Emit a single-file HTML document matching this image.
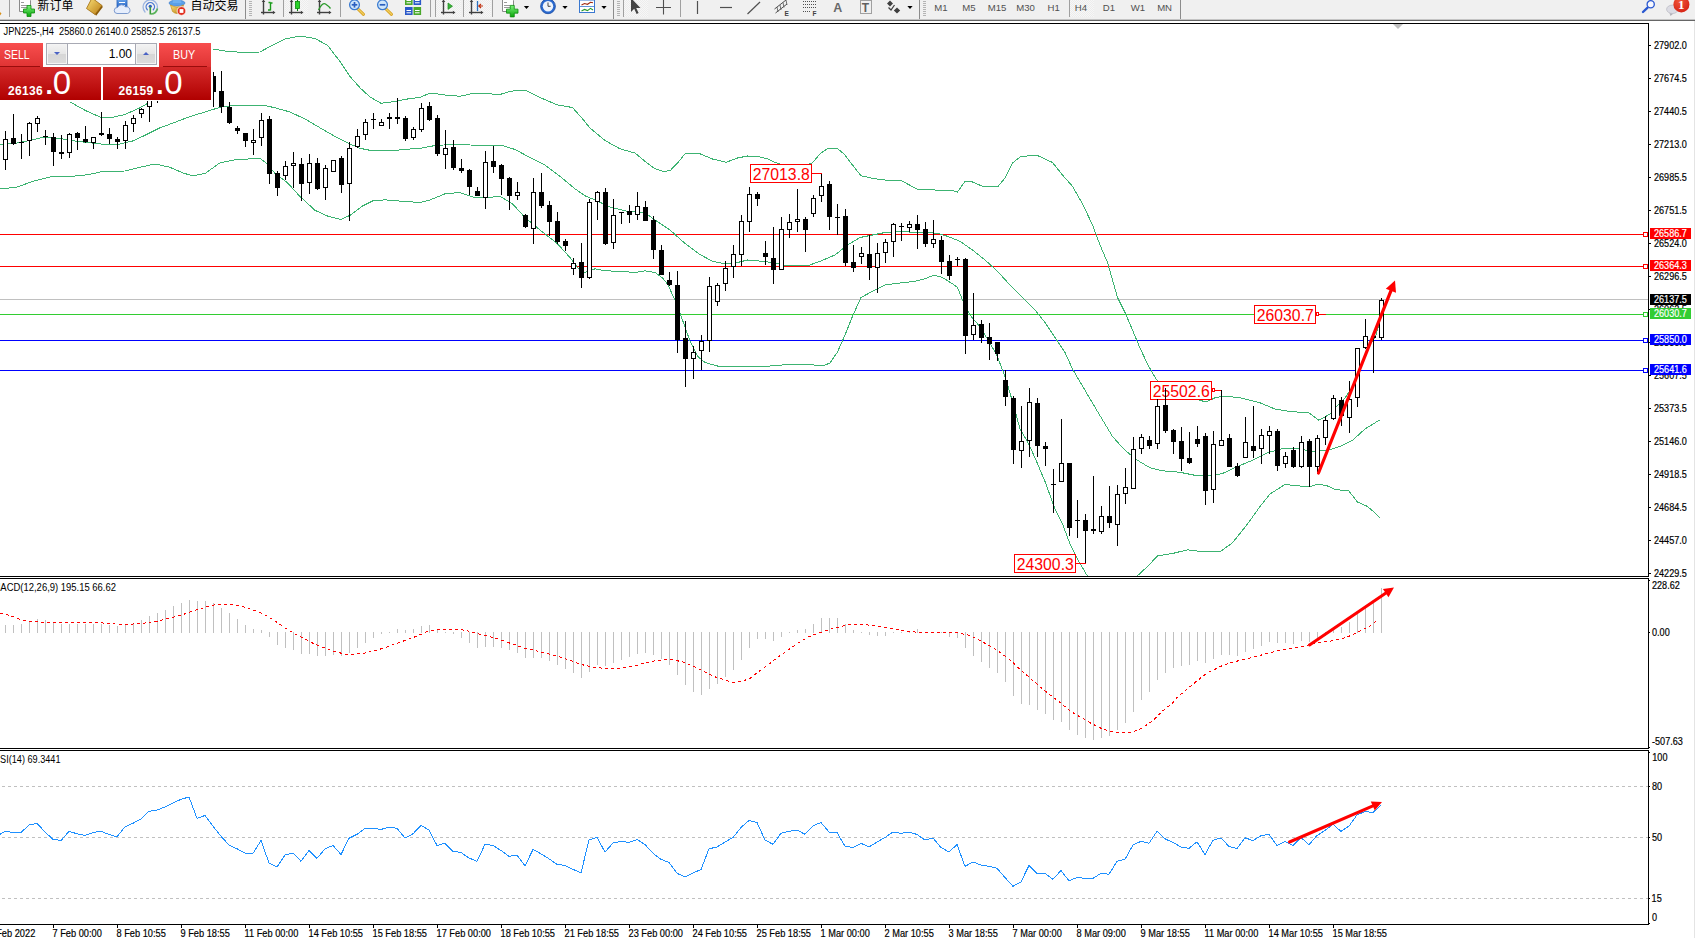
<!DOCTYPE html>
<html lang="zh"><head><meta charset="utf-8"><title>JPN225-,H4</title><style>
html,body{margin:0;padding:0;background:#fff;}
body{width:1695px;height:938px;overflow:hidden;position:relative;font-family:"Liberation Sans","Noto Sans CJK SC",sans-serif;}
#edge{position:absolute;left:1694px;top:21px;width:1px;height:917px;background:#e4e4e4;}
#oct{position:absolute;left:0;top:43px;width:211px;height:57px;}
#oct div{position:absolute;box-sizing:border-box;}
.btn{background:linear-gradient(#f84e4e,#de3232);color:#fff;font-size:12px;}
.px{background:linear-gradient(#d42a2a,#b00000);color:#fff;}
.sm{position:absolute;color:#fff;letter-spacing:0.3px;font-weight:bold;font-size:12px;line-height:12px;}
.big{position:absolute;color:#fff;font-size:33px;line-height:33px;}
.dot{position:absolute;color:#fff;font-weight:bold;font-size:26px;line-height:26px;}
.sp{background:linear-gradient(#f2f2f2 0%,#e6e6e6 48%,#d6d6d6 52%,#dcdcdc 100%);}
</style></head>
<body>
<svg id="chart" width="1695" height="938" viewBox="0 0 1695 938" style="position:absolute;left:0;top:0" font-family="Liberation Sans, sans-serif">
<defs><clipPath id="cm"><rect x="0" y="24" width="1648" height="552"/></clipPath><clipPath id="c2"><rect x="0" y="579" width="1648" height="169"/></clipPath><clipPath id="c3"><rect x="0" y="751" width="1648" height="173"/></clipPath></defs>
<g shape-rendering="crispEdges">
<rect x="0" y="299" width="1648" height="1" fill="#c0c0c0"/>
<rect x="0" y="234" width="1648" height="1" fill="#ff0000"/>
<rect x="0" y="266" width="1648" height="1" fill="#ff0000"/>
<rect x="0" y="314" width="1648" height="1" fill="#32cd32"/>
<rect x="0" y="340" width="1648" height="1" fill="#0000ff"/>
<rect x="0" y="370" width="1648" height="1" fill="#0000ff"/>
</g>
<g clip-path="url(#cm)" shape-rendering="crispEdges">
<polyline points="70.0,102.0 85.0,110.3 100.0,117.0 110.0,117.8 125.0,114.5 140.0,107.8 147.5,103.5 155.0,99.0 170.0,90.0 185.0,75.0 200.0,58.0 212.5,49.0 225.0,51.0 240.0,52.3 260.0,52.0 270.0,46.5 285.0,39.0 300.0,36.0 315.0,38.5 327.5,45.3 340.0,61.5 350.0,76.5 360.0,87.8 370.0,97.0 381.0,103.3 395.0,101.5 410.0,98.5 420.0,97.5 430.0,93.0 445.0,95.0 460.0,96.3 475.0,93.0 500.0,94.5 510.0,91.3 525.0,90.0 540.0,97.5 557.5,105.0 572.5,107.5 582.5,118.8 590.0,128.0 605.0,140.5 620.0,148.8 635.0,153.0 645.0,161.3 655.0,168.8 662.5,171.3 670.0,170.8 677.5,163.0 685.0,153.8 700.0,153.8 712.5,159.0 726.0,162.3 737.5,158.0 747.5,156.0 757.0,156.3 767.5,158.8 775.0,162.5 790.0,167.0 800.0,168.0 812.5,162.8 820.0,153.8 827.5,148.5 837.0,148.0 845.0,155.0 852.5,165.0 861.0,175.8 875.0,178.8 885.0,180.0 900.0,180.0 917.5,189.3 935.0,190.0 950.0,190.0 957.5,192.0 965.0,181.3 972.5,182.0 982.5,186.3 997.5,187.0 1005.0,178.0 1012.5,163.0 1021.0,156.3 1037.5,155.5 1052.5,162.5 1062.5,175.0 1072.5,186.3 1082.5,203.8 1092.5,225.0 1100.0,245.0 1107.5,262.5 1112.5,280.0 1117.5,297.5 1125.0,312.5 1132.5,330.0 1140.0,348.0 1147.5,364.0 1156.0,379.0 1165.0,388.0 1180.0,395.0 1190.0,398.0 1200.0,400.3 1206.0,402.0 1215.0,397.8 1225.0,396.0 1240.0,397.8 1260.0,402.8 1275.0,409.0 1290.0,411.5 1308.8,412.8 1318.8,420.3 1330.0,414.0 1337.5,405.3 1345.0,398.0 1353.0,386.0 1361.0,364.0 1369.0,346.0 1375.0,338.0 1381.0,318.0" fill="none" stroke="#3cb371" stroke-width="1" />
<polyline points="0.0,144.5 15.0,143.5 30.0,140.3 45.0,137.0 60.0,138.5 75.0,141.0 90.0,142.8 105.0,144.5 120.0,144.0 132.5,141.0 145.0,135.3 160.0,127.8 175.0,122.3 190.0,116.5 205.0,112.0 220.0,107.3 235.0,105.3 250.0,105.3 265.0,105.5 275.0,107.8 290.0,112.0 305.0,119.0 320.0,127.8 335.0,136.5 350.0,144.0 360.0,148.3 372.5,150.8 390.0,150.8 410.0,149.0 420.0,148.5 435.0,145.5 452.5,144.5 470.0,145.0 502.5,145.5 515.0,149.5 530.0,157.5 545.0,165.0 560.0,176.3 575.0,188.8 585.0,195.8 595.0,200.0 610.0,207.0 627.5,211.3 645.0,212.5 655.0,220.0 670.0,230.0 685.0,243.5 700.0,254.5 712.5,261.3 725.0,263.8 737.5,262.5 747.5,260.0 757.5,260.8 775.0,262.8 785.0,265.5 807.5,265.8 820.0,261.3 835.0,255.0 847.5,245.0 860.0,237.5 872.5,235.0 885.0,232.5 900.0,231.3 915.0,232.5 925.0,232.5 937.5,233.3 947.5,236.3 960.0,241.3 972.5,250.0 985.0,260.0 997.5,271.3 1010.0,285.0 1022.5,297.5 1035.0,310.0 1045.0,322.5 1055.0,337.5 1065.0,352.5 1072.5,369.0 1085.0,390.3 1097.5,411.5 1112.5,436.5 1125.0,450.3 1137.5,460.3 1150.0,467.8 1162.5,470.8 1180.0,472.3 1195.0,475.3 1210.0,476.0 1222.5,473.5 1237.5,466.5 1252.5,460.3 1267.5,452.8 1282.5,448.5 1297.5,448.5 1312.5,451.5 1327.5,450.3 1340.0,446.5 1352.5,440.3 1365.0,429.0 1375.0,422.8 1380.5,419.5" fill="none" stroke="#3cb371" stroke-width="1" />
<polyline points="0.0,188.3 15.0,187.8 32.5,181.5 50.0,177.0 70.0,176.5 87.5,174.8 102.5,171.5 125.0,171.0 140.0,167.3 155.0,164.0 170.0,167.3 182.5,172.8 192.5,175.8 205.0,173.5 220.0,162.8 235.0,159.8 260.0,158.3 267.5,164.0 275.0,173.5 287.5,182.8 300.0,196.5 315.0,210.3 327.5,216.0 341.0,219.5 350.0,215.3 362.5,206.0 372.5,201.0 385.0,199.8 405.0,201.5 420.0,202.5 430.0,200.0 445.0,193.8 460.0,192.5 472.5,197.0 487.5,197.5 500.0,196.3 512.5,203.8 525.0,217.5 540.0,230.0 557.5,243.8 570.0,257.5 577.5,267.5 585.0,272.5 595.0,268.8 605.0,270.8 620.0,271.3 635.0,272.5 645.0,270.8 655.0,272.5 662.5,278.0 667.5,284.0 675.0,300.0 682.5,320.0 690.0,341.0 697.5,356.3 705.0,362.5 717.5,366.0 735.0,366.0 770.0,366.0 795.0,364.0 810.0,364.5 822.5,366.0 830.0,363.0 837.5,352.0 845.0,335.0 852.5,316.3 861.0,297.5 872.5,291.3 885.0,285.0 900.0,283.0 915.0,281.3 925.0,278.8 934.0,275.0 942.5,277.5 952.5,283.8 957.5,287.5 962.5,300.0 970.0,315.0 977.5,323.8 985.0,335.0 992.5,347.5 997.5,357.0 1005.0,376.5 1012.5,401.5 1020.0,429.0 1027.5,441.5 1035.0,457.8 1045.0,481.5 1055.0,509.0 1062.5,524.0 1070.0,544.0 1077.5,559.0 1084.0,570.3 1088.0,577.0" fill="none" stroke="#3cb371" stroke-width="1" />
<polyline points="1136.0,577.0 1138.8,574.5 1147.5,566.5 1157.5,556.0 1172.5,553.5 1187.5,549.8 1205.0,552.0 1221.0,551.0 1232.5,542.8 1247.5,524.0 1260.0,506.5 1270.0,494.0 1285.0,484.5 1300.0,486.0 1308.8,487.0 1318.8,484.0 1327.5,486.0 1335.0,489.5 1348.8,491.0 1357.5,502.0 1367.5,506.5 1375.0,512.8 1380.5,518.5" fill="none" stroke="#3cb371" stroke-width="1" />
</g>
<g shape-rendering="crispEdges"><rect x="750.5" y="164.5" width="61" height="18" fill="#fff" stroke="#ff0000" stroke-width="1"/>
<rect x="812" y="173" width="10" height="1" fill="#f00"/>
</g>
<text x="781.3" y="179.6" font-size="16" fill="#ff0000" text-anchor="middle" textLength="57" lengthAdjust="spacingAndGlyphs">27013.8</text>
<g shape-rendering="crispEdges"><rect x="1014.5" y="554.5" width="61" height="18" fill="#fff" stroke="#ff0000" stroke-width="1"/>
<rect x="1076" y="563" width="10" height="1" fill="#f00"/>
</g>
<text x="1045.3" y="569.6" font-size="16" fill="#ff0000" text-anchor="middle" textLength="57" lengthAdjust="spacingAndGlyphs">24300.3</text>
<g shape-rendering="crispEdges"><rect x="1150.5" y="381.5" width="61" height="18" fill="#fff" stroke="#ff0000" stroke-width="1"/>
<rect x="1214" y="390" width="8" height="1" fill="#f00"/>
<rect x="1212.5" y="388.5" width="2" height="3" fill="#fff" stroke="#f00"/>
</g>
<text x="1181.3" y="396.6" font-size="16" fill="#ff0000" text-anchor="middle" textLength="57" lengthAdjust="spacingAndGlyphs">25502.6</text>
<g shape-rendering="crispEdges"><rect x="1254.5" y="305.5" width="61" height="18" fill="#fff" stroke="#ff0000" stroke-width="1"/>
<rect x="1319" y="314" width="7" height="1" fill="#f00"/>
<rect x="1316.5" y="312.5" width="2" height="3" fill="#fff" stroke="#f00"/>
</g>
<text x="1285.3" y="320.6" font-size="16" fill="#ff0000" text-anchor="middle" textLength="57" lengthAdjust="spacingAndGlyphs">26030.7</text>
<g clip-path="url(#cm)" shape-rendering="crispEdges">
<rect x="5" y="131" width="1" height="39" fill="#000"/>
<rect x="3" y="139" width="5" height="21" fill="#000"/>
<rect x="4" y="140" width="3" height="19" fill="#fff"/>
<rect x="13" y="114" width="1" height="31" fill="#000"/>
<rect x="11" y="138" width="5" height="6" fill="#000"/>
<rect x="21" y="134" width="1" height="25" fill="#000"/>
<rect x="19" y="142" width="5" height="1" fill="#000"/>
<rect x="29" y="122" width="1" height="34" fill="#000"/>
<rect x="27" y="123" width="5" height="18" fill="#000"/>
<rect x="28" y="124" width="3" height="16" fill="#fff"/>
<rect x="37" y="116" width="1" height="16" fill="#000"/>
<rect x="35" y="118" width="5" height="6" fill="#000"/>
<rect x="36" y="119" width="3" height="4" fill="#fff"/>
<rect x="45" y="130" width="1" height="15" fill="#000"/>
<rect x="43" y="136" width="5" height="1" fill="#000"/>
<rect x="53" y="133" width="1" height="33" fill="#000"/>
<rect x="51" y="137" width="5" height="15" fill="#000"/>
<rect x="61" y="135" width="1" height="24" fill="#000"/>
<rect x="59" y="152" width="5" height="2" fill="#000"/>
<rect x="69" y="133" width="1" height="25" fill="#000"/>
<rect x="67" y="134" width="5" height="19" fill="#000"/>
<rect x="68" y="135" width="3" height="17" fill="#fff"/>
<rect x="77" y="132" width="1" height="18" fill="#000"/>
<rect x="75" y="133" width="5" height="5" fill="#000"/>
<rect x="85" y="126" width="1" height="17" fill="#000"/>
<rect x="83" y="139" width="5" height="3" fill="#000"/>
<rect x="93" y="137" width="1" height="12" fill="#000"/>
<rect x="91" y="137" width="5" height="6" fill="#000"/>
<rect x="92" y="138" width="3" height="4" fill="#fff"/>
<rect x="101" y="112" width="1" height="24" fill="#000"/>
<rect x="99" y="133" width="5" height="2" fill="#000"/>
<rect x="109" y="128" width="1" height="16" fill="#000"/>
<rect x="107" y="134" width="5" height="5" fill="#000"/>
<rect x="117" y="137" width="1" height="12" fill="#000"/>
<rect x="115" y="139" width="5" height="3" fill="#000"/>
<rect x="125" y="121" width="1" height="28" fill="#000"/>
<rect x="123" y="125" width="5" height="16" fill="#000"/>
<rect x="124" y="126" width="3" height="14" fill="#fff"/>
<rect x="133" y="115" width="1" height="17" fill="#000"/>
<rect x="131" y="118" width="5" height="6" fill="#000"/>
<rect x="132" y="119" width="3" height="4" fill="#fff"/>
<rect x="141" y="108" width="1" height="10" fill="#000"/>
<rect x="139" y="109" width="5" height="5" fill="#000"/>
<rect x="140" y="110" width="3" height="3" fill="#fff"/>
<rect x="149" y="93" width="1" height="29" fill="#000"/>
<rect x="147" y="97" width="5" height="10" fill="#000"/>
<rect x="148" y="98" width="3" height="8" fill="#fff"/>
<rect x="157" y="88" width="1" height="15" fill="#000"/>
<rect x="155" y="90" width="5" height="6" fill="#000"/>
<rect x="156" y="91" width="3" height="4" fill="#fff"/>
<rect x="165" y="80" width="1" height="15" fill="#000"/>
<rect x="163" y="82" width="5" height="8" fill="#000"/>
<rect x="164" y="83" width="3" height="6" fill="#fff"/>
<rect x="173" y="75" width="1" height="15" fill="#000"/>
<rect x="171" y="78" width="5" height="4" fill="#000"/>
<rect x="181" y="70" width="1" height="18" fill="#000"/>
<rect x="179" y="72" width="5" height="8" fill="#000"/>
<rect x="180" y="73" width="3" height="6" fill="#fff"/>
<rect x="189" y="62" width="1" height="18" fill="#000"/>
<rect x="187" y="65" width="5" height="7" fill="#000"/>
<rect x="188" y="66" width="3" height="5" fill="#fff"/>
<rect x="197" y="60" width="1" height="18" fill="#000"/>
<rect x="195" y="64" width="5" height="6" fill="#000"/>
<rect x="205" y="58" width="1" height="22" fill="#000"/>
<rect x="203" y="62" width="5" height="14" fill="#000"/>
<rect x="213" y="72" width="1" height="35" fill="#000"/>
<rect x="211" y="76" width="5" height="16" fill="#000"/>
<rect x="221" y="71" width="1" height="42" fill="#000"/>
<rect x="219" y="91" width="5" height="16" fill="#000"/>
<rect x="229" y="102" width="1" height="22" fill="#000"/>
<rect x="227" y="107" width="5" height="16" fill="#000"/>
<rect x="237" y="126" width="1" height="8" fill="#000"/>
<rect x="235" y="128" width="5" height="3" fill="#000"/>
<rect x="245" y="133" width="1" height="14" fill="#000"/>
<rect x="243" y="133" width="5" height="8" fill="#000"/>
<rect x="253" y="129" width="1" height="26" fill="#000"/>
<rect x="251" y="140" width="5" height="3" fill="#000"/>
<rect x="252" y="141" width="3" height="1" fill="#fff"/>
<rect x="261" y="113" width="1" height="33" fill="#000"/>
<rect x="259" y="120" width="5" height="18" fill="#000"/>
<rect x="260" y="121" width="3" height="16" fill="#fff"/>
<rect x="269" y="116" width="1" height="68" fill="#000"/>
<rect x="267" y="119" width="5" height="55" fill="#000"/>
<rect x="277" y="171" width="1" height="25" fill="#000"/>
<rect x="275" y="173" width="5" height="15" fill="#000"/>
<rect x="285" y="161" width="1" height="19" fill="#000"/>
<rect x="283" y="166" width="5" height="10" fill="#000"/>
<rect x="284" y="167" width="3" height="8" fill="#fff"/>
<rect x="293" y="152" width="1" height="36" fill="#000"/>
<rect x="291" y="163" width="5" height="3" fill="#000"/>
<rect x="292" y="164" width="3" height="1" fill="#fff"/>
<rect x="301" y="158" width="1" height="43" fill="#000"/>
<rect x="299" y="164" width="5" height="20" fill="#000"/>
<rect x="309" y="154" width="1" height="40" fill="#000"/>
<rect x="307" y="163" width="5" height="20" fill="#000"/>
<rect x="308" y="164" width="3" height="18" fill="#fff"/>
<rect x="317" y="158" width="1" height="32" fill="#000"/>
<rect x="315" y="163" width="5" height="26" fill="#000"/>
<rect x="325" y="165" width="1" height="35" fill="#000"/>
<rect x="323" y="168" width="5" height="20" fill="#000"/>
<rect x="324" y="169" width="3" height="18" fill="#fff"/>
<rect x="333" y="160" width="1" height="12" fill="#000"/>
<rect x="331" y="160" width="5" height="12" fill="#000"/>
<rect x="332" y="161" width="3" height="10" fill="#fff"/>
<rect x="341" y="156" width="1" height="37" fill="#000"/>
<rect x="339" y="158" width="5" height="27" fill="#000"/>
<rect x="349" y="142" width="1" height="79" fill="#000"/>
<rect x="347" y="148" width="5" height="36" fill="#000"/>
<rect x="348" y="149" width="3" height="34" fill="#fff"/>
<rect x="357" y="129" width="1" height="19" fill="#000"/>
<rect x="355" y="136" width="5" height="11" fill="#000"/>
<rect x="356" y="137" width="3" height="9" fill="#fff"/>
<rect x="365" y="119" width="1" height="21" fill="#000"/>
<rect x="363" y="122" width="5" height="13" fill="#000"/>
<rect x="364" y="123" width="3" height="11" fill="#fff"/>
<rect x="373" y="113" width="1" height="16" fill="#000"/>
<rect x="371" y="119" width="5" height="1" fill="#000"/>
<rect x="381" y="119" width="1" height="7" fill="#000"/>
<rect x="379" y="122" width="5" height="4" fill="#000"/>
<rect x="380" y="123" width="3" height="2" fill="#fff"/>
<rect x="389" y="113" width="1" height="16" fill="#000"/>
<rect x="387" y="117" width="5" height="2" fill="#000"/>
<rect x="397" y="98" width="1" height="26" fill="#000"/>
<rect x="395" y="117" width="5" height="2" fill="#000"/>
<rect x="405" y="116" width="1" height="25" fill="#000"/>
<rect x="403" y="118" width="5" height="21" fill="#000"/>
<rect x="413" y="127" width="1" height="13" fill="#000"/>
<rect x="411" y="129" width="5" height="9" fill="#000"/>
<rect x="412" y="130" width="3" height="7" fill="#fff"/>
<rect x="421" y="103" width="1" height="29" fill="#000"/>
<rect x="419" y="108" width="5" height="22" fill="#000"/>
<rect x="420" y="109" width="3" height="20" fill="#fff"/>
<rect x="429" y="102" width="1" height="19" fill="#000"/>
<rect x="427" y="106" width="5" height="14" fill="#000"/>
<rect x="437" y="115" width="1" height="41" fill="#000"/>
<rect x="435" y="118" width="5" height="36" fill="#000"/>
<rect x="445" y="130" width="1" height="39" fill="#000"/>
<rect x="443" y="148" width="5" height="7" fill="#000"/>
<rect x="444" y="149" width="3" height="5" fill="#fff"/>
<rect x="453" y="140" width="1" height="30" fill="#000"/>
<rect x="451" y="147" width="5" height="21" fill="#000"/>
<rect x="461" y="159" width="1" height="14" fill="#000"/>
<rect x="459" y="168" width="5" height="3" fill="#000"/>
<rect x="469" y="169" width="1" height="26" fill="#000"/>
<rect x="467" y="170" width="5" height="17" fill="#000"/>
<rect x="477" y="187" width="1" height="9" fill="#000"/>
<rect x="475" y="191" width="5" height="5" fill="#000"/>
<rect x="485" y="151" width="1" height="58" fill="#000"/>
<rect x="483" y="162" width="5" height="36" fill="#000"/>
<rect x="484" y="163" width="3" height="34" fill="#fff"/>
<rect x="493" y="146" width="1" height="27" fill="#000"/>
<rect x="491" y="161" width="5" height="6" fill="#000"/>
<rect x="501" y="164" width="1" height="31" fill="#000"/>
<rect x="499" y="165" width="5" height="14" fill="#000"/>
<rect x="509" y="177" width="1" height="33" fill="#000"/>
<rect x="507" y="178" width="5" height="18" fill="#000"/>
<rect x="517" y="182" width="1" height="18" fill="#000"/>
<rect x="515" y="192" width="5" height="4" fill="#000"/>
<rect x="516" y="193" width="3" height="2" fill="#fff"/>
<rect x="525" y="214" width="1" height="14" fill="#000"/>
<rect x="523" y="215" width="5" height="12" fill="#000"/>
<rect x="533" y="178" width="1" height="66" fill="#000"/>
<rect x="531" y="192" width="5" height="37" fill="#000"/>
<rect x="532" y="193" width="3" height="35" fill="#fff"/>
<rect x="541" y="173" width="1" height="35" fill="#000"/>
<rect x="539" y="192" width="5" height="14" fill="#000"/>
<rect x="549" y="201" width="1" height="35" fill="#000"/>
<rect x="547" y="205" width="5" height="17" fill="#000"/>
<rect x="557" y="212" width="1" height="32" fill="#000"/>
<rect x="555" y="221" width="5" height="21" fill="#000"/>
<rect x="565" y="239" width="1" height="12" fill="#000"/>
<rect x="563" y="241" width="5" height="5" fill="#000"/>
<rect x="573" y="258" width="1" height="17" fill="#000"/>
<rect x="571" y="263" width="5" height="6" fill="#000"/>
<rect x="572" y="264" width="3" height="4" fill="#fff"/>
<rect x="581" y="243" width="1" height="45" fill="#000"/>
<rect x="579" y="262" width="5" height="16" fill="#000"/>
<rect x="589" y="199" width="1" height="80" fill="#000"/>
<rect x="587" y="202" width="5" height="76" fill="#000"/>
<rect x="588" y="203" width="3" height="74" fill="#fff"/>
<rect x="597" y="191" width="1" height="29" fill="#000"/>
<rect x="595" y="192" width="5" height="10" fill="#000"/>
<rect x="596" y="193" width="3" height="8" fill="#fff"/>
<rect x="605" y="188" width="1" height="57" fill="#000"/>
<rect x="603" y="192" width="5" height="52" fill="#000"/>
<rect x="613" y="199" width="1" height="50" fill="#000"/>
<rect x="611" y="215" width="5" height="28" fill="#000"/>
<rect x="612" y="216" width="3" height="26" fill="#fff"/>
<rect x="621" y="212" width="1" height="12" fill="#000"/>
<rect x="619" y="212" width="5" height="1" fill="#000"/>
<rect x="629" y="205" width="1" height="18" fill="#000"/>
<rect x="627" y="211" width="5" height="4" fill="#000"/>
<rect x="637" y="192" width="1" height="28" fill="#000"/>
<rect x="635" y="206" width="5" height="9" fill="#000"/>
<rect x="636" y="207" width="3" height="7" fill="#fff"/>
<rect x="645" y="201" width="1" height="20" fill="#000"/>
<rect x="643" y="207" width="5" height="14" fill="#000"/>
<rect x="653" y="216" width="1" height="43" fill="#000"/>
<rect x="651" y="220" width="5" height="30" fill="#000"/>
<rect x="661" y="245" width="1" height="30" fill="#000"/>
<rect x="659" y="250" width="5" height="25" fill="#000"/>
<rect x="669" y="272" width="1" height="14" fill="#000"/>
<rect x="667" y="280" width="5" height="5" fill="#000"/>
<rect x="677" y="271" width="1" height="82" fill="#000"/>
<rect x="675" y="285" width="5" height="55" fill="#000"/>
<rect x="685" y="321" width="1" height="66" fill="#000"/>
<rect x="683" y="338" width="5" height="21" fill="#000"/>
<rect x="693" y="346" width="1" height="33" fill="#000"/>
<rect x="691" y="352" width="5" height="7" fill="#000"/>
<rect x="692" y="353" width="3" height="5" fill="#fff"/>
<rect x="701" y="335" width="1" height="35" fill="#000"/>
<rect x="699" y="341" width="5" height="10" fill="#000"/>
<rect x="700" y="342" width="3" height="8" fill="#fff"/>
<rect x="709" y="277" width="1" height="75" fill="#000"/>
<rect x="707" y="286" width="5" height="55" fill="#000"/>
<rect x="708" y="287" width="3" height="53" fill="#fff"/>
<rect x="717" y="283" width="1" height="23" fill="#000"/>
<rect x="715" y="285" width="5" height="17" fill="#000"/>
<rect x="716" y="286" width="3" height="15" fill="#fff"/>
<rect x="725" y="261" width="1" height="30" fill="#000"/>
<rect x="723" y="268" width="5" height="16" fill="#000"/>
<rect x="724" y="269" width="3" height="14" fill="#fff"/>
<rect x="733" y="245" width="1" height="33" fill="#000"/>
<rect x="731" y="254" width="5" height="13" fill="#000"/>
<rect x="732" y="255" width="3" height="11" fill="#fff"/>
<rect x="741" y="215" width="1" height="51" fill="#000"/>
<rect x="739" y="221" width="5" height="34" fill="#000"/>
<rect x="740" y="222" width="3" height="32" fill="#fff"/>
<rect x="749" y="187" width="1" height="45" fill="#000"/>
<rect x="747" y="194" width="5" height="28" fill="#000"/>
<rect x="748" y="195" width="3" height="26" fill="#fff"/>
<rect x="757" y="192" width="1" height="14" fill="#000"/>
<rect x="755" y="194" width="5" height="5" fill="#000"/>
<rect x="765" y="241" width="1" height="24" fill="#000"/>
<rect x="763" y="253" width="5" height="4" fill="#000"/>
<rect x="773" y="227" width="1" height="57" fill="#000"/>
<rect x="771" y="258" width="5" height="12" fill="#000"/>
<rect x="781" y="217" width="1" height="53" fill="#000"/>
<rect x="779" y="229" width="5" height="41" fill="#000"/>
<rect x="780" y="230" width="3" height="39" fill="#fff"/>
<rect x="789" y="214" width="1" height="24" fill="#000"/>
<rect x="787" y="222" width="5" height="8" fill="#000"/>
<rect x="788" y="223" width="3" height="6" fill="#fff"/>
<rect x="797" y="189" width="1" height="43" fill="#000"/>
<rect x="795" y="219" width="5" height="3" fill="#000"/>
<rect x="796" y="220" width="3" height="1" fill="#fff"/>
<rect x="805" y="217" width="1" height="35" fill="#000"/>
<rect x="803" y="219" width="5" height="11" fill="#000"/>
<rect x="813" y="195" width="1" height="22" fill="#000"/>
<rect x="811" y="198" width="5" height="16" fill="#000"/>
<rect x="812" y="199" width="3" height="14" fill="#fff"/>
<rect x="821" y="174" width="1" height="28" fill="#000"/>
<rect x="819" y="186" width="5" height="10" fill="#000"/>
<rect x="820" y="187" width="3" height="8" fill="#fff"/>
<rect x="829" y="181" width="1" height="49" fill="#000"/>
<rect x="827" y="184" width="5" height="33" fill="#000"/>
<rect x="837" y="204" width="1" height="31" fill="#000"/>
<rect x="835" y="217" width="5" height="1" fill="#000"/>
<rect x="845" y="209" width="1" height="57" fill="#000"/>
<rect x="843" y="216" width="5" height="47" fill="#000"/>
<rect x="853" y="245" width="1" height="27" fill="#000"/>
<rect x="851" y="262" width="5" height="6" fill="#000"/>
<rect x="861" y="247" width="1" height="17" fill="#000"/>
<rect x="859" y="253" width="5" height="4" fill="#000"/>
<rect x="860" y="254" width="3" height="2" fill="#fff"/>
<rect x="869" y="235" width="1" height="45" fill="#000"/>
<rect x="867" y="254" width="5" height="14" fill="#000"/>
<rect x="877" y="243" width="1" height="50" fill="#000"/>
<rect x="875" y="253" width="5" height="15" fill="#000"/>
<rect x="876" y="254" width="3" height="13" fill="#fff"/>
<rect x="885" y="239" width="1" height="24" fill="#000"/>
<rect x="883" y="242" width="5" height="11" fill="#000"/>
<rect x="884" y="243" width="3" height="9" fill="#fff"/>
<rect x="893" y="223" width="1" height="34" fill="#000"/>
<rect x="891" y="224" width="5" height="18" fill="#000"/>
<rect x="892" y="225" width="3" height="16" fill="#fff"/>
<rect x="901" y="223" width="1" height="18" fill="#000"/>
<rect x="899" y="226" width="5" height="1" fill="#000"/>
<rect x="909" y="221" width="1" height="11" fill="#000"/>
<rect x="907" y="224" width="5" height="4" fill="#000"/>
<rect x="908" y="225" width="3" height="2" fill="#fff"/>
<rect x="917" y="215" width="1" height="34" fill="#000"/>
<rect x="915" y="224" width="5" height="6" fill="#000"/>
<rect x="925" y="222" width="1" height="25" fill="#000"/>
<rect x="923" y="229" width="5" height="15" fill="#000"/>
<rect x="933" y="220" width="1" height="28" fill="#000"/>
<rect x="931" y="239" width="5" height="5" fill="#000"/>
<rect x="932" y="240" width="3" height="3" fill="#fff"/>
<rect x="941" y="236" width="1" height="38" fill="#000"/>
<rect x="939" y="240" width="5" height="22" fill="#000"/>
<rect x="949" y="255" width="1" height="25" fill="#000"/>
<rect x="947" y="261" width="5" height="15" fill="#000"/>
<rect x="957" y="257" width="1" height="9" fill="#000"/>
<rect x="955" y="259" width="5" height="1" fill="#000"/>
<rect x="965" y="258" width="1" height="96" fill="#000"/>
<rect x="963" y="259" width="5" height="77" fill="#000"/>
<rect x="973" y="293" width="1" height="47" fill="#000"/>
<rect x="971" y="325" width="5" height="10" fill="#000"/>
<rect x="972" y="326" width="3" height="8" fill="#fff"/>
<rect x="981" y="320" width="1" height="23" fill="#000"/>
<rect x="979" y="324" width="5" height="14" fill="#000"/>
<rect x="989" y="323" width="1" height="37" fill="#000"/>
<rect x="987" y="337" width="5" height="7" fill="#000"/>
<rect x="997" y="342" width="1" height="19" fill="#000"/>
<rect x="995" y="342" width="5" height="12" fill="#000"/>
<rect x="1005" y="370" width="1" height="36" fill="#000"/>
<rect x="1003" y="380" width="5" height="17" fill="#000"/>
<rect x="1013" y="396" width="1" height="68" fill="#000"/>
<rect x="1011" y="398" width="5" height="52" fill="#000"/>
<rect x="1021" y="406" width="1" height="62" fill="#000"/>
<rect x="1019" y="441" width="5" height="10" fill="#000"/>
<rect x="1020" y="442" width="3" height="8" fill="#fff"/>
<rect x="1029" y="388" width="1" height="69" fill="#000"/>
<rect x="1027" y="402" width="5" height="39" fill="#000"/>
<rect x="1028" y="403" width="3" height="37" fill="#fff"/>
<rect x="1037" y="398" width="1" height="59" fill="#000"/>
<rect x="1035" y="403" width="5" height="43" fill="#000"/>
<rect x="1045" y="442" width="1" height="24" fill="#000"/>
<rect x="1043" y="446" width="5" height="3" fill="#000"/>
<rect x="1053" y="469" width="1" height="44" fill="#000"/>
<rect x="1051" y="484" width="5" height="1" fill="#000"/>
<rect x="1061" y="419" width="1" height="63" fill="#000"/>
<rect x="1059" y="463" width="5" height="19" fill="#000"/>
<rect x="1060" y="464" width="3" height="17" fill="#fff"/>
<rect x="1069" y="463" width="1" height="73" fill="#000"/>
<rect x="1067" y="463" width="5" height="65" fill="#000"/>
<rect x="1077" y="500" width="1" height="38" fill="#000"/>
<rect x="1075" y="520" width="5" height="1" fill="#000"/>
<rect x="1085" y="514" width="1" height="49" fill="#000"/>
<rect x="1083" y="520" width="5" height="11" fill="#000"/>
<rect x="1093" y="476" width="1" height="58" fill="#000"/>
<rect x="1091" y="529" width="5" height="2" fill="#000"/>
<rect x="1101" y="506" width="1" height="28" fill="#000"/>
<rect x="1099" y="516" width="5" height="16" fill="#000"/>
<rect x="1100" y="517" width="3" height="14" fill="#fff"/>
<rect x="1109" y="486" width="1" height="42" fill="#000"/>
<rect x="1107" y="516" width="5" height="7" fill="#000"/>
<rect x="1117" y="485" width="1" height="61" fill="#000"/>
<rect x="1115" y="494" width="5" height="31" fill="#000"/>
<rect x="1116" y="495" width="3" height="29" fill="#fff"/>
<rect x="1125" y="468" width="1" height="36" fill="#000"/>
<rect x="1123" y="487" width="5" height="7" fill="#000"/>
<rect x="1124" y="488" width="3" height="5" fill="#fff"/>
<rect x="1133" y="437" width="1" height="52" fill="#000"/>
<rect x="1131" y="449" width="5" height="40" fill="#000"/>
<rect x="1132" y="450" width="3" height="38" fill="#fff"/>
<rect x="1141" y="434" width="1" height="20" fill="#000"/>
<rect x="1139" y="437" width="5" height="12" fill="#000"/>
<rect x="1140" y="438" width="3" height="10" fill="#fff"/>
<rect x="1149" y="436" width="1" height="13" fill="#000"/>
<rect x="1147" y="440" width="5" height="6" fill="#000"/>
<rect x="1157" y="399" width="1" height="50" fill="#000"/>
<rect x="1155" y="406" width="5" height="38" fill="#000"/>
<rect x="1156" y="407" width="3" height="36" fill="#fff"/>
<rect x="1165" y="388" width="1" height="45" fill="#000"/>
<rect x="1163" y="405" width="5" height="26" fill="#000"/>
<rect x="1173" y="429" width="1" height="25" fill="#000"/>
<rect x="1171" y="430" width="5" height="12" fill="#000"/>
<rect x="1181" y="427" width="1" height="44" fill="#000"/>
<rect x="1179" y="441" width="5" height="18" fill="#000"/>
<rect x="1189" y="432" width="1" height="32" fill="#000"/>
<rect x="1187" y="458" width="5" height="5" fill="#000"/>
<rect x="1197" y="426" width="1" height="21" fill="#000"/>
<rect x="1195" y="439" width="5" height="5" fill="#000"/>
<rect x="1205" y="433" width="1" height="72" fill="#000"/>
<rect x="1203" y="436" width="5" height="55" fill="#000"/>
<rect x="1213" y="431" width="1" height="72" fill="#000"/>
<rect x="1211" y="444" width="5" height="46" fill="#000"/>
<rect x="1212" y="445" width="3" height="44" fill="#fff"/>
<rect x="1221" y="390" width="1" height="56" fill="#000"/>
<rect x="1219" y="440" width="5" height="6" fill="#000"/>
<rect x="1220" y="441" width="3" height="4" fill="#fff"/>
<rect x="1229" y="434" width="1" height="33" fill="#000"/>
<rect x="1227" y="438" width="5" height="29" fill="#000"/>
<rect x="1237" y="463" width="1" height="14" fill="#000"/>
<rect x="1235" y="466" width="5" height="10" fill="#000"/>
<rect x="1245" y="417" width="1" height="41" fill="#000"/>
<rect x="1243" y="442" width="5" height="16" fill="#000"/>
<rect x="1244" y="443" width="3" height="14" fill="#fff"/>
<rect x="1253" y="406" width="1" height="52" fill="#000"/>
<rect x="1251" y="446" width="5" height="5" fill="#000"/>
<rect x="1261" y="429" width="1" height="35" fill="#000"/>
<rect x="1259" y="435" width="5" height="14" fill="#000"/>
<rect x="1260" y="436" width="3" height="12" fill="#fff"/>
<rect x="1269" y="426" width="1" height="28" fill="#000"/>
<rect x="1267" y="431" width="5" height="5" fill="#000"/>
<rect x="1268" y="432" width="3" height="3" fill="#fff"/>
<rect x="1277" y="429" width="1" height="42" fill="#000"/>
<rect x="1275" y="431" width="5" height="35" fill="#000"/>
<rect x="1285" y="452" width="1" height="16" fill="#000"/>
<rect x="1283" y="456" width="5" height="8" fill="#000"/>
<rect x="1284" y="457" width="3" height="6" fill="#fff"/>
<rect x="1293" y="447" width="1" height="21" fill="#000"/>
<rect x="1291" y="450" width="5" height="17" fill="#000"/>
<rect x="1301" y="436" width="1" height="32" fill="#000"/>
<rect x="1299" y="442" width="5" height="25" fill="#000"/>
<rect x="1300" y="443" width="3" height="23" fill="#fff"/>
<rect x="1309" y="439" width="1" height="48" fill="#000"/>
<rect x="1307" y="441" width="5" height="26" fill="#000"/>
<rect x="1317" y="435" width="1" height="37" fill="#000"/>
<rect x="1315" y="438" width="5" height="29" fill="#000"/>
<rect x="1316" y="439" width="3" height="27" fill="#fff"/>
<rect x="1325" y="416" width="1" height="29" fill="#000"/>
<rect x="1323" y="420" width="5" height="18" fill="#000"/>
<rect x="1324" y="421" width="3" height="16" fill="#fff"/>
<rect x="1333" y="395" width="1" height="25" fill="#000"/>
<rect x="1331" y="398" width="5" height="21" fill="#000"/>
<rect x="1332" y="399" width="3" height="19" fill="#fff"/>
<rect x="1341" y="397" width="1" height="29" fill="#000"/>
<rect x="1339" y="400" width="5" height="16" fill="#000"/>
<rect x="1349" y="381" width="1" height="52" fill="#000"/>
<rect x="1347" y="399" width="5" height="19" fill="#000"/>
<rect x="1348" y="400" width="3" height="17" fill="#fff"/>
<rect x="1357" y="348" width="1" height="59" fill="#000"/>
<rect x="1355" y="348" width="5" height="50" fill="#000"/>
<rect x="1356" y="349" width="3" height="48" fill="#fff"/>
<rect x="1365" y="319" width="1" height="30" fill="#000"/>
<rect x="1363" y="336" width="5" height="12" fill="#000"/>
<rect x="1364" y="337" width="3" height="10" fill="#fff"/>
<rect x="1373" y="335" width="1" height="38" fill="#000"/>
<rect x="1371" y="336" width="5" height="2" fill="#000"/>
<rect x="1381" y="298" width="1" height="42" fill="#000"/>
<rect x="1379" y="300" width="5" height="38" fill="#000"/>
<rect x="1380" y="301" width="3" height="36" fill="#fff"/>
</g>
<g shape-rendering="crispEdges" fill="#fff">
<rect x="1643.5" y="232.5" width="4" height="4" stroke="#ff0000" stroke-width="1"/>
<rect x="1643.5" y="264.5" width="4" height="4" stroke="#ff0000" stroke-width="1"/>
<rect x="1643.5" y="312.5" width="4" height="4" stroke="#32cd32" stroke-width="1"/>
<rect x="1643.5" y="338.5" width="4" height="4" stroke="#0000ff" stroke-width="1"/>
<rect x="1643.5" y="368.5" width="4" height="4" stroke="#0000ff" stroke-width="1"/>
</g>
<line x1="1318.5" y1="473.0" x2="1391.7" y2="288.9" stroke="#ff0000" stroke-width="3.2" stroke-linecap="round"/>
<polygon points="1395.0,280.5 1396.0,292.8 1385.8,288.7" fill="#ff0000"/>
<g shape-rendering="crispEdges" clip-path="url(#c2)">
<rect x="5" y="625" width="1" height="8" fill="#c0c0c0"/>
<rect x="13" y="625" width="1" height="8" fill="#c0c0c0"/>
<rect x="21" y="624" width="1" height="9" fill="#c0c0c0"/>
<rect x="29" y="622" width="1" height="11" fill="#c0c0c0"/>
<rect x="37" y="619" width="1" height="14" fill="#c0c0c0"/>
<rect x="45" y="620" width="1" height="13" fill="#c0c0c0"/>
<rect x="53" y="622" width="1" height="11" fill="#c0c0c0"/>
<rect x="61" y="624" width="1" height="9" fill="#c0c0c0"/>
<rect x="69" y="624" width="1" height="9" fill="#c0c0c0"/>
<rect x="77" y="624" width="1" height="9" fill="#c0c0c0"/>
<rect x="85" y="624" width="1" height="9" fill="#c0c0c0"/>
<rect x="93" y="624" width="1" height="9" fill="#c0c0c0"/>
<rect x="101" y="624" width="1" height="9" fill="#c0c0c0"/>
<rect x="109" y="625" width="1" height="8" fill="#c0c0c0"/>
<rect x="117" y="626" width="1" height="7" fill="#c0c0c0"/>
<rect x="125" y="625" width="1" height="8" fill="#c0c0c0"/>
<rect x="133" y="623" width="1" height="10" fill="#c0c0c0"/>
<rect x="141" y="620" width="1" height="13" fill="#c0c0c0"/>
<rect x="149" y="616" width="1" height="17" fill="#c0c0c0"/>
<rect x="157" y="613" width="1" height="20" fill="#c0c0c0"/>
<rect x="165" y="610" width="1" height="23" fill="#c0c0c0"/>
<rect x="173" y="606" width="1" height="27" fill="#c0c0c0"/>
<rect x="181" y="603" width="1" height="30" fill="#c0c0c0"/>
<rect x="189" y="600" width="1" height="33" fill="#c0c0c0"/>
<rect x="197" y="601" width="1" height="32" fill="#c0c0c0"/>
<rect x="205" y="601" width="1" height="32" fill="#c0c0c0"/>
<rect x="213" y="603" width="1" height="30" fill="#c0c0c0"/>
<rect x="221" y="608" width="1" height="25" fill="#c0c0c0"/>
<rect x="229" y="613" width="1" height="20" fill="#c0c0c0"/>
<rect x="237" y="619" width="1" height="14" fill="#c0c0c0"/>
<rect x="245" y="625" width="1" height="8" fill="#c0c0c0"/>
<rect x="253" y="629" width="1" height="4" fill="#c0c0c0"/>
<rect x="261" y="630" width="1" height="3" fill="#c0c0c0"/>
<rect x="269" y="632" width="1" height="5" fill="#c0c0c0"/>
<rect x="277" y="632" width="1" height="13" fill="#c0c0c0"/>
<rect x="285" y="632" width="1" height="16" fill="#c0c0c0"/>
<rect x="293" y="632" width="1" height="18" fill="#c0c0c0"/>
<rect x="301" y="632" width="1" height="22" fill="#c0c0c0"/>
<rect x="309" y="632" width="1" height="22" fill="#c0c0c0"/>
<rect x="317" y="632" width="1" height="24" fill="#c0c0c0"/>
<rect x="325" y="632" width="1" height="24" fill="#c0c0c0"/>
<rect x="333" y="632" width="1" height="23" fill="#c0c0c0"/>
<rect x="341" y="632" width="1" height="24" fill="#c0c0c0"/>
<rect x="349" y="632" width="1" height="21" fill="#c0c0c0"/>
<rect x="357" y="632" width="1" height="16" fill="#c0c0c0"/>
<rect x="365" y="632" width="1" height="11" fill="#c0c0c0"/>
<rect x="373" y="632" width="1" height="6" fill="#c0c0c0"/>
<rect x="381" y="632" width="1" height="2" fill="#c0c0c0"/>
<rect x="389" y="632" width="1" height="1" fill="#c0c0c0"/>
<rect x="397" y="629" width="1" height="4" fill="#c0c0c0"/>
<rect x="405" y="630" width="1" height="3" fill="#c0c0c0"/>
<rect x="413" y="629" width="1" height="4" fill="#c0c0c0"/>
<rect x="421" y="626" width="1" height="7" fill="#c0c0c0"/>
<rect x="429" y="625" width="1" height="8" fill="#c0c0c0"/>
<rect x="437" y="629" width="1" height="4" fill="#c0c0c0"/>
<rect x="445" y="632" width="1" height="1" fill="#c0c0c0"/>
<rect x="453" y="632" width="1" height="2" fill="#c0c0c0"/>
<rect x="461" y="632" width="1" height="6" fill="#c0c0c0"/>
<rect x="469" y="632" width="1" height="11" fill="#c0c0c0"/>
<rect x="477" y="632" width="1" height="16" fill="#c0c0c0"/>
<rect x="485" y="632" width="1" height="15" fill="#c0c0c0"/>
<rect x="493" y="632" width="1" height="15" fill="#c0c0c0"/>
<rect x="501" y="632" width="1" height="16" fill="#c0c0c0"/>
<rect x="509" y="632" width="1" height="18" fill="#c0c0c0"/>
<rect x="517" y="632" width="1" height="21" fill="#c0c0c0"/>
<rect x="525" y="632" width="1" height="26" fill="#c0c0c0"/>
<rect x="533" y="632" width="1" height="26" fill="#c0c0c0"/>
<rect x="541" y="632" width="1" height="26" fill="#c0c0c0"/>
<rect x="549" y="632" width="1" height="29" fill="#c0c0c0"/>
<rect x="557" y="632" width="1" height="33" fill="#c0c0c0"/>
<rect x="565" y="632" width="1" height="37" fill="#c0c0c0"/>
<rect x="573" y="632" width="1" height="41" fill="#c0c0c0"/>
<rect x="581" y="632" width="1" height="46" fill="#c0c0c0"/>
<rect x="589" y="632" width="1" height="40" fill="#c0c0c0"/>
<rect x="597" y="632" width="1" height="33" fill="#c0c0c0"/>
<rect x="605" y="632" width="1" height="34" fill="#c0c0c0"/>
<rect x="613" y="632" width="1" height="31" fill="#c0c0c0"/>
<rect x="621" y="632" width="1" height="28" fill="#c0c0c0"/>
<rect x="629" y="632" width="1" height="25" fill="#c0c0c0"/>
<rect x="637" y="632" width="1" height="22" fill="#c0c0c0"/>
<rect x="645" y="632" width="1" height="21" fill="#c0c0c0"/>
<rect x="653" y="632" width="1" height="23" fill="#c0c0c0"/>
<rect x="661" y="632" width="1" height="27" fill="#c0c0c0"/>
<rect x="669" y="632" width="1" height="33" fill="#c0c0c0"/>
<rect x="677" y="632" width="1" height="43" fill="#c0c0c0"/>
<rect x="685" y="632" width="1" height="53" fill="#c0c0c0"/>
<rect x="693" y="632" width="1" height="60" fill="#c0c0c0"/>
<rect x="701" y="632" width="1" height="63" fill="#c0c0c0"/>
<rect x="709" y="632" width="1" height="57" fill="#c0c0c0"/>
<rect x="717" y="632" width="1" height="52" fill="#c0c0c0"/>
<rect x="725" y="632" width="1" height="45" fill="#c0c0c0"/>
<rect x="733" y="632" width="1" height="38" fill="#c0c0c0"/>
<rect x="741" y="632" width="1" height="28" fill="#c0c0c0"/>
<rect x="749" y="632" width="1" height="16" fill="#c0c0c0"/>
<rect x="757" y="632" width="1" height="7" fill="#c0c0c0"/>
<rect x="765" y="632" width="1" height="7" fill="#c0c0c0"/>
<rect x="773" y="632" width="1" height="9" fill="#c0c0c0"/>
<rect x="781" y="632" width="1" height="5" fill="#c0c0c0"/>
<rect x="789" y="632" width="1" height="1" fill="#c0c0c0"/>
<rect x="797" y="630" width="1" height="3" fill="#c0c0c0"/>
<rect x="805" y="629" width="1" height="4" fill="#c0c0c0"/>
<rect x="813" y="624" width="1" height="9" fill="#c0c0c0"/>
<rect x="821" y="618" width="1" height="15" fill="#c0c0c0"/>
<rect x="829" y="618" width="1" height="15" fill="#c0c0c0"/>
<rect x="837" y="618" width="1" height="15" fill="#c0c0c0"/>
<rect x="845" y="624" width="1" height="9" fill="#c0c0c0"/>
<rect x="853" y="630" width="1" height="3" fill="#c0c0c0"/>
<rect x="861" y="632" width="1" height="1" fill="#c0c0c0"/>
<rect x="869" y="632" width="1" height="3" fill="#c0c0c0"/>
<rect x="877" y="632" width="1" height="4" fill="#c0c0c0"/>
<rect x="885" y="632" width="1" height="4" fill="#c0c0c0"/>
<rect x="893" y="632" width="1" height="1" fill="#c0c0c0"/>
<rect x="901" y="632" width="1" height="1" fill="#c0c0c0"/>
<rect x="909" y="632" width="1" height="1" fill="#c0c0c0"/>
<rect x="917" y="629" width="1" height="4" fill="#c0c0c0"/>
<rect x="925" y="632" width="1" height="1" fill="#c0c0c0"/>
<rect x="933" y="632" width="1" height="1" fill="#c0c0c0"/>
<rect x="941" y="632" width="1" height="1" fill="#c0c0c0"/>
<rect x="949" y="632" width="1" height="5" fill="#c0c0c0"/>
<rect x="957" y="632" width="1" height="6" fill="#c0c0c0"/>
<rect x="965" y="632" width="1" height="16" fill="#c0c0c0"/>
<rect x="973" y="632" width="1" height="24" fill="#c0c0c0"/>
<rect x="981" y="632" width="1" height="30" fill="#c0c0c0"/>
<rect x="989" y="632" width="1" height="36" fill="#c0c0c0"/>
<rect x="997" y="632" width="1" height="41" fill="#c0c0c0"/>
<rect x="1005" y="632" width="1" height="50" fill="#c0c0c0"/>
<rect x="1013" y="632" width="1" height="64" fill="#c0c0c0"/>
<rect x="1021" y="632" width="1" height="72" fill="#c0c0c0"/>
<rect x="1029" y="632" width="1" height="73" fill="#c0c0c0"/>
<rect x="1037" y="632" width="1" height="78" fill="#c0c0c0"/>
<rect x="1045" y="632" width="1" height="82" fill="#c0c0c0"/>
<rect x="1053" y="632" width="1" height="88" fill="#c0c0c0"/>
<rect x="1061" y="632" width="1" height="90" fill="#c0c0c0"/>
<rect x="1069" y="632" width="1" height="98" fill="#c0c0c0"/>
<rect x="1077" y="632" width="1" height="103" fill="#c0c0c0"/>
<rect x="1085" y="632" width="1" height="106" fill="#c0c0c0"/>
<rect x="1093" y="632" width="1" height="108" fill="#c0c0c0"/>
<rect x="1101" y="632" width="1" height="106" fill="#c0c0c0"/>
<rect x="1109" y="632" width="1" height="104" fill="#c0c0c0"/>
<rect x="1117" y="632" width="1" height="98" fill="#c0c0c0"/>
<rect x="1125" y="632" width="1" height="91" fill="#c0c0c0"/>
<rect x="1133" y="632" width="1" height="80" fill="#c0c0c0"/>
<rect x="1141" y="632" width="1" height="68" fill="#c0c0c0"/>
<rect x="1149" y="632" width="1" height="60" fill="#c0c0c0"/>
<rect x="1157" y="632" width="1" height="48" fill="#c0c0c0"/>
<rect x="1165" y="632" width="1" height="41" fill="#c0c0c0"/>
<rect x="1173" y="632" width="1" height="36" fill="#c0c0c0"/>
<rect x="1181" y="632" width="1" height="34" fill="#c0c0c0"/>
<rect x="1189" y="632" width="1" height="33" fill="#c0c0c0"/>
<rect x="1197" y="632" width="1" height="29" fill="#c0c0c0"/>
<rect x="1205" y="632" width="1" height="31" fill="#c0c0c0"/>
<rect x="1213" y="632" width="1" height="27" fill="#c0c0c0"/>
<rect x="1221" y="632" width="1" height="23" fill="#c0c0c0"/>
<rect x="1229" y="632" width="1" height="23" fill="#c0c0c0"/>
<rect x="1237" y="632" width="1" height="24" fill="#c0c0c0"/>
<rect x="1245" y="632" width="1" height="20" fill="#c0c0c0"/>
<rect x="1253" y="632" width="1" height="17" fill="#c0c0c0"/>
<rect x="1261" y="632" width="1" height="14" fill="#c0c0c0"/>
<rect x="1269" y="632" width="1" height="10" fill="#c0c0c0"/>
<rect x="1277" y="632" width="1" height="11" fill="#c0c0c0"/>
<rect x="1285" y="632" width="1" height="11" fill="#c0c0c0"/>
<rect x="1293" y="632" width="1" height="12" fill="#c0c0c0"/>
<rect x="1301" y="632" width="1" height="9" fill="#c0c0c0"/>
<rect x="1309" y="632" width="1" height="10" fill="#c0c0c0"/>
<rect x="1317" y="632" width="1" height="8" fill="#c0c0c0"/>
<rect x="1325" y="632" width="1" height="4" fill="#c0c0c0"/>
<rect x="1333" y="630" width="1" height="3" fill="#c0c0c0"/>
<rect x="1341" y="627" width="1" height="6" fill="#c0c0c0"/>
<rect x="1349" y="622" width="1" height="11" fill="#c0c0c0"/>
<rect x="1357" y="614" width="1" height="19" fill="#c0c0c0"/>
<rect x="1365" y="608" width="1" height="25" fill="#c0c0c0"/>
<rect x="1373" y="602" width="1" height="31" fill="#c0c0c0"/>
<rect x="1381" y="588" width="1" height="45" fill="#c0c0c0"/>
</g>
<polyline points="0.0,613.0 10.0,615.5 20.0,619.3 30.0,621.5 50.0,622.8 75.0,622.8 100.0,622.8 115.0,624.0 130.0,624.3 145.0,623.0 157.5,621.0 170.0,618.0 182.5,614.8 192.5,611.0 205.0,607.3 215.0,604.8 230.0,604.3 242.5,606.5 255.0,610.5 265.0,614.8 275.0,621.0 285.0,627.8 295.0,634.0 305.0,639.0 315.0,644.3 325.0,648.0 335.0,651.8 345.0,654.0 355.0,654.3 365.0,653.0 375.0,650.5 385.0,647.8 395.0,644.0 405.0,640.5 415.0,636.8 420.0,634.8 427.5,631.5 437.5,629.3 460.0,629.3 470.0,631.5 485.0,635.5 495.0,638.0 505.0,641.5 515.0,644.8 525.0,648.5 535.0,650.5 545.0,653.0 555.0,655.5 565.0,658.5 575.0,662.3 585.0,665.5 595.0,667.3 605.0,668.5 620.0,668.5 632.5,666.5 645.0,663.0 657.5,660.3 670.0,659.3 682.5,661.8 692.5,666.0 702.5,670.5 712.5,676.0 722.5,679.3 732.5,682.3 742.5,681.0 750.0,678.5 757.5,672.3 767.5,665.5 777.5,657.3 787.5,650.5 797.5,643.5 807.5,637.3 817.5,633.5 830.0,629.3 840.0,626.8 850.0,624.3 862.5,624.3 875.0,626.0 890.0,628.5 905.0,631.0 920.0,632.5 940.0,632.5 957.5,632.8 970.0,635.5 980.0,640.5 990.0,646.0 1000.0,652.3 1010.0,659.8 1020.0,669.3 1030.0,678.0 1040.0,686.8 1050.0,694.8 1060.0,702.3 1070.0,711.0 1080.0,716.8 1090.0,722.8 1100.0,727.8 1110.0,731.5 1122.5,733.0 1132.5,732.3 1142.5,727.8 1152.5,721.0 1162.5,711.0 1172.5,703.0 1176.5,698.1 1189.0,687.5 1203.0,676.0 1208.4,672.5 1220.8,666.3 1231.4,662.4 1245.6,659.2 1256.2,656.5 1266.8,653.5 1279.2,650.3 1291.6,648.6 1304.0,645.9 1316.4,642.9 1334.0,640.6 1346.5,637.4 1358.8,631.8 1369.5,626.4 1378.3,619.0" fill="none" stroke="#ff0000" stroke-width="1" stroke-dasharray="3 3" shape-rendering="crispEdges"/>
<line x1="1309.5" y1="645.0" x2="1387.4" y2="592.0" stroke="#ff0000" stroke-width="3.0" stroke-linecap="round"/>
<polygon points="1394.0,587.5 1388.5,597.3 1382.9,589.0" fill="#ff0000"/>
<g shape-rendering="crispEdges">
<line x1="2" y1="786.5" x2="1648" y2="786.5" stroke="#c0c0c0" stroke-width="1" stroke-dasharray="3 3"/>
<line x1="2" y1="837.5" x2="1648" y2="837.5" stroke="#c0c0c0" stroke-width="1" stroke-dasharray="3 3"/>
<line x1="2" y1="898.5" x2="1648" y2="898.5" stroke="#c0c0c0" stroke-width="1" stroke-dasharray="3 3"/>
</g>
<polyline points="-3.0,836.0 5.0,831.3 13.0,832.5 21.0,832.5 29.0,825.0 37.0,823.3 45.0,832.0 53.0,839.3 61.0,840.5 69.0,831.3 77.0,833.8 85.0,835.5 93.0,832.5 101.0,831.3 109.0,834.5 117.0,836.8 125.0,826.8 133.0,823.3 141.0,818.8 149.0,811.3 157.0,810.0 165.0,807.0 173.0,803.0 181.0,799.3 189.0,797.0 197.0,818.3 205.0,815.5 213.0,826.3 221.0,836.3 229.0,845.0 237.0,848.8 245.0,853.0 253.0,853.3 261.0,840.5 269.0,863.0 277.0,867.0 285.0,855.0 293.0,853.0 301.0,861.3 309.0,850.5 317.0,858.3 325.0,848.8 333.0,845.5 341.0,854.5 349.0,838.3 357.0,834.3 365.0,828.3 373.0,828.3 381.0,829.5 389.0,827.0 397.0,828.3 405.0,838.0 413.0,833.8 421.0,825.5 429.0,830.0 437.0,845.5 445.0,843.3 453.0,851.3 461.0,852.5 469.0,858.0 477.0,861.3 485.0,844.3 493.0,845.5 501.0,850.5 509.0,856.3 517.0,855.0 525.0,865.8 533.0,849.5 541.0,853.8 549.0,858.8 557.0,864.3 565.0,865.5 573.0,869.3 581.0,873.0 589.0,840.0 597.0,837.5 605.0,852.0 613.0,843.0 621.0,841.3 629.0,842.5 637.0,839.5 645.0,844.5 653.0,853.3 661.0,859.3 669.0,862.5 677.0,873.3 685.0,876.8 693.0,873.0 701.0,869.5 709.0,848.8 717.0,847.0 725.0,842.0 733.0,837.5 741.0,827.5 749.0,820.5 757.0,822.5 765.0,840.0 773.0,844.3 781.0,833.3 789.0,831.3 797.0,830.0 805.0,834.3 813.0,825.8 821.0,822.5 829.0,832.0 837.0,832.5 845.0,846.3 853.0,847.5 861.0,843.3 869.0,847.0 877.0,842.0 885.0,837.5 893.0,832.0 901.0,833.3 909.0,832.0 917.0,834.5 925.0,840.0 933.0,838.0 941.0,847.5 949.0,852.0 957.0,844.5 965.0,866.3 973.0,862.0 981.0,865.0 989.0,866.3 997.0,868.3 1005.0,877.5 1013.0,886.3 1021.0,881.8 1029.0,865.5 1037.0,873.3 1045.0,873.3 1053.0,879.3 1061.0,870.5 1069.0,880.8 1077.0,877.5 1085.0,878.3 1093.0,878.3 1101.0,873.3 1109.0,874.3 1117.0,861.3 1125.0,859.3 1133.0,845.0 1141.0,841.3 1149.0,843.3 1157.0,831.3 1165.0,838.8 1173.0,842.5 1181.0,847.0 1189.0,848.3 1197.0,841.8 1205.0,854.6 1213.0,840.2 1221.0,838.0 1229.0,846.4 1237.0,848.5 1245.0,837.8 1253.0,840.6 1261.0,835.7 1269.0,834.4 1277.0,845.6 1285.0,841.5 1293.0,845.6 1301.0,837.6 1309.0,844.7 1317.0,835.5 1325.0,830.5 1333.0,824.3 1341.0,831.4 1349.0,826.1 1357.0,815.0 1365.0,811.4 1373.0,812.5 1381.0,805.2" fill="none" stroke="#1e90ff" stroke-width="1" clip-path="url(#c3)" shape-rendering="crispEdges"/>
<line x1="1289.5" y1="842.0" x2="1374.7" y2="805.2" stroke="#ff0000" stroke-width="3.0" stroke-linecap="round"/>
<polygon points="1382.0,802.0 1374.8,810.6 1370.8,801.4" fill="#ff0000"/>
<g shape-rendering="crispEdges" fill="#000">
<rect x="0" y="23" width="1649" height="1"/>
<rect x="0" y="576" width="1649" height="1"/>
<rect x="0" y="578" width="1649" height="1"/>
<rect x="0" y="748" width="1649" height="1"/>
<rect x="0" y="750" width="1649" height="1"/>
<rect x="0" y="924" width="1649" height="1"/>
<rect x="1648" y="23" width="1" height="554"/>
<rect x="1648" y="578" width="1" height="171"/>
<rect x="1648" y="750" width="1" height="175"/>
<rect x="1649" y="45" width="2" height="1"/>
<rect x="1649" y="78" width="2" height="1"/>
<rect x="1649" y="111" width="2" height="1"/>
<rect x="1649" y="144" width="2" height="1"/>
<rect x="1649" y="177" width="2" height="1"/>
<rect x="1649" y="210" width="2" height="1"/>
<rect x="1649" y="243" width="2" height="1"/>
<rect x="1649" y="276" width="2" height="1"/>
<rect x="1649" y="309" width="2" height="1"/>
<rect x="1649" y="342" width="2" height="1"/>
<rect x="1649" y="375" width="2" height="1"/>
<rect x="1649" y="408" width="2" height="1"/>
<rect x="1649" y="441" width="2" height="1"/>
<rect x="1649" y="474" width="2" height="1"/>
<rect x="1649" y="507" width="2" height="1"/>
<rect x="1649" y="540" width="2" height="1"/>
<rect x="1649" y="573" width="2" height="1"/>
<rect x="1649" y="580" width="1" height="1"/>
<rect x="1649" y="632" width="1" height="1"/>
<rect x="1649" y="747" width="1" height="1"/>
<rect x="1649" y="752" width="1" height="1"/>
<rect x="1649" y="786" width="1" height="1"/>
<rect x="1649" y="837" width="1" height="1"/>
<rect x="1649" y="898" width="1" height="1"/>
<rect x="1649" y="923" width="1" height="1"/>
<rect x="53" y="925" width="1" height="3"/>
<rect x="117" y="925" width="1" height="3"/>
<rect x="181" y="925" width="1" height="3"/>
<rect x="245" y="925" width="1" height="3"/>
<rect x="309" y="925" width="1" height="3"/>
<rect x="373" y="925" width="1" height="3"/>
<rect x="437" y="925" width="1" height="3"/>
<rect x="501" y="925" width="1" height="3"/>
<rect x="565" y="925" width="1" height="3"/>
<rect x="629" y="925" width="1" height="3"/>
<rect x="693" y="925" width="1" height="3"/>
<rect x="757" y="925" width="1" height="3"/>
<rect x="821" y="925" width="1" height="3"/>
<rect x="885" y="925" width="1" height="3"/>
<rect x="949" y="925" width="1" height="3"/>
<rect x="1013" y="925" width="1" height="3"/>
<rect x="1077" y="925" width="1" height="3"/>
<rect x="1141" y="925" width="1" height="3"/>
<rect x="1205" y="925" width="1" height="3"/>
<rect x="1269" y="925" width="1" height="3"/>
<rect x="1333" y="925" width="1" height="3"/>
</g>
<text transform="translate(1654,48.8) scale(0.91,1)" font-size="10" fill="#000" stroke="#000" stroke-width="0.18" >27902.0</text>
<text transform="translate(1654,81.8) scale(0.91,1)" font-size="10" fill="#000" stroke="#000" stroke-width="0.18" >27674.5</text>
<text transform="translate(1654,114.8) scale(0.91,1)" font-size="10" fill="#000" stroke="#000" stroke-width="0.18" >27440.5</text>
<text transform="translate(1654,147.8) scale(0.91,1)" font-size="10" fill="#000" stroke="#000" stroke-width="0.18" >27213.0</text>
<text transform="translate(1654,180.8) scale(0.91,1)" font-size="10" fill="#000" stroke="#000" stroke-width="0.18" >26985.5</text>
<text transform="translate(1654,213.8) scale(0.91,1)" font-size="10" fill="#000" stroke="#000" stroke-width="0.18" >26751.5</text>
<text transform="translate(1654,246.8) scale(0.91,1)" font-size="10" fill="#000" stroke="#000" stroke-width="0.18" >26524.0</text>
<text transform="translate(1654,279.8) scale(0.91,1)" font-size="10" fill="#000" stroke="#000" stroke-width="0.18" >26296.5</text>
<text transform="translate(1654,312.8) scale(0.91,1)" font-size="10" fill="#000" stroke="#000" stroke-width="0.18" >26062.5</text>
<text transform="translate(1654,345.8) scale(0.91,1)" font-size="10" fill="#000" stroke="#000" stroke-width="0.18" >25835.0</text>
<text transform="translate(1654,378.8) scale(0.91,1)" font-size="10" fill="#000" stroke="#000" stroke-width="0.18" >25607.5</text>
<text transform="translate(1654,411.8) scale(0.91,1)" font-size="10" fill="#000" stroke="#000" stroke-width="0.18" >25373.5</text>
<text transform="translate(1654,444.8) scale(0.91,1)" font-size="10" fill="#000" stroke="#000" stroke-width="0.18" >25146.0</text>
<text transform="translate(1654,477.8) scale(0.91,1)" font-size="10" fill="#000" stroke="#000" stroke-width="0.18" >24918.5</text>
<text transform="translate(1654,510.8) scale(0.91,1)" font-size="10" fill="#000" stroke="#000" stroke-width="0.18" >24684.5</text>
<text transform="translate(1654,543.8) scale(0.91,1)" font-size="10" fill="#000" stroke="#000" stroke-width="0.18" >24457.0</text>
<text transform="translate(1654,576.8) scale(0.91,1)" font-size="10" fill="#000" stroke="#000" stroke-width="0.18" >24229.5</text>
<rect x="1650" y="294" width="41" height="11" fill="#000" shape-rendering="crispEdges"/>
<text transform="translate(1654,303) scale(0.91,1)" font-size="10" fill="#fff" stroke="#fff" stroke-width="0.18" >26137.5</text>
<rect x="1650" y="228" width="41" height="11" fill="#ff0000" shape-rendering="crispEdges"/>
<text transform="translate(1654,237) scale(0.91,1)" font-size="10" fill="#fff" stroke="#fff" stroke-width="0.18" >26586.7</text>
<rect x="1650" y="260" width="41" height="11" fill="#ff0000" shape-rendering="crispEdges"/>
<text transform="translate(1654,269) scale(0.91,1)" font-size="10" fill="#fff" stroke="#fff" stroke-width="0.18" >26364.3</text>
<rect x="1650" y="308" width="41" height="11" fill="#32cd32" shape-rendering="crispEdges"/>
<text transform="translate(1654,317) scale(0.91,1)" font-size="10" fill="#fff" stroke="#fff" stroke-width="0.18" >26030.7</text>
<rect x="1650" y="334" width="41" height="11" fill="#0000ff" shape-rendering="crispEdges"/>
<text transform="translate(1654,343) scale(0.91,1)" font-size="10" fill="#fff" stroke="#fff" stroke-width="0.18" >25850.0</text>
<rect x="1650" y="364" width="41" height="11" fill="#0000ff" shape-rendering="crispEdges"/>
<text transform="translate(1654,373) scale(0.91,1)" font-size="10" fill="#fff" stroke="#fff" stroke-width="0.18" >25641.6</text>
<text transform="translate(1652,588.8) scale(0.91,1)" font-size="10" fill="#000" stroke="#000" stroke-width="0.18" >228.62</text>
<text transform="translate(1652,636) scale(0.91,1)" font-size="10" fill="#000" stroke="#000" stroke-width="0.18" >0.00</text>
<text transform="translate(1652,744.9) scale(0.91,1)" font-size="10" fill="#000" stroke="#000" stroke-width="0.18" >-507.63</text>
<text transform="translate(1652.3,761) scale(0.91,1)" font-size="10" fill="#000" stroke="#000" stroke-width="0.18" >100</text>
<text transform="translate(1652,789.6) scale(0.91,1)" font-size="10" fill="#000" stroke="#000" stroke-width="0.18" >80</text>
<text transform="translate(1652,841) scale(0.91,1)" font-size="10" fill="#000" stroke="#000" stroke-width="0.18" >50</text>
<text transform="translate(1651.6,902) scale(0.91,1)" font-size="10" fill="#000" stroke="#000" stroke-width="0.18" >15</text>
<text transform="translate(1652,921) scale(0.91,1)" font-size="10" fill="#000" stroke="#000" stroke-width="0.18" >0</text>
<text x="3.5" y="35.3" font-size="10" textLength="197" lengthAdjust="spacingAndGlyphs" xml:space="preserve">JPN225-,H4  25860.0 26140.0 25852.5 26137.5</text>
<text x="-7.5" y="591" font-size="10" textLength="123.5" lengthAdjust="spacingAndGlyphs">MACD(12,26,9) 195.15 66.62</text>
<text x="-6.5" y="763" font-size="10" textLength="67" lengthAdjust="spacingAndGlyphs">RSI(14) 69.3441</text>
<text transform="translate(-11.5,936.8) scale(0.925,1)" font-size="10" fill="#000" stroke="#000" stroke-width="0.18" >4 Feb 2022</text>
<text transform="translate(52.5,936.8) scale(0.925,1)" font-size="10" fill="#000" stroke="#000" stroke-width="0.18" >7 Feb 00:00</text>
<text transform="translate(116.5,936.8) scale(0.925,1)" font-size="10" fill="#000" stroke="#000" stroke-width="0.18" >8 Feb 10:55</text>
<text transform="translate(180.5,936.8) scale(0.925,1)" font-size="10" fill="#000" stroke="#000" stroke-width="0.18" >9 Feb 18:55</text>
<text transform="translate(244.5,936.8) scale(0.925,1)" font-size="10" fill="#000" stroke="#000" stroke-width="0.18" >11 Feb 00:00</text>
<text transform="translate(308.5,936.8) scale(0.925,1)" font-size="10" fill="#000" stroke="#000" stroke-width="0.18" >14 Feb 10:55</text>
<text transform="translate(372.5,936.8) scale(0.925,1)" font-size="10" fill="#000" stroke="#000" stroke-width="0.18" >15 Feb 18:55</text>
<text transform="translate(436.5,936.8) scale(0.925,1)" font-size="10" fill="#000" stroke="#000" stroke-width="0.18" >17 Feb 00:00</text>
<text transform="translate(500.5,936.8) scale(0.925,1)" font-size="10" fill="#000" stroke="#000" stroke-width="0.18" >18 Feb 10:55</text>
<text transform="translate(564.5,936.8) scale(0.925,1)" font-size="10" fill="#000" stroke="#000" stroke-width="0.18" >21 Feb 18:55</text>
<text transform="translate(628.5,936.8) scale(0.925,1)" font-size="10" fill="#000" stroke="#000" stroke-width="0.18" >23 Feb 00:00</text>
<text transform="translate(692.5,936.8) scale(0.925,1)" font-size="10" fill="#000" stroke="#000" stroke-width="0.18" >24 Feb 10:55</text>
<text transform="translate(756.5,936.8) scale(0.925,1)" font-size="10" fill="#000" stroke="#000" stroke-width="0.18" >25 Feb 18:55</text>
<text transform="translate(820.5,936.8) scale(0.925,1)" font-size="10" fill="#000" stroke="#000" stroke-width="0.18" >1 Mar 00:00</text>
<text transform="translate(884.5,936.8) scale(0.925,1)" font-size="10" fill="#000" stroke="#000" stroke-width="0.18" >2 Mar 10:55</text>
<text transform="translate(948.5,936.8) scale(0.925,1)" font-size="10" fill="#000" stroke="#000" stroke-width="0.18" >3 Mar 18:55</text>
<text transform="translate(1012.5,936.8) scale(0.925,1)" font-size="10" fill="#000" stroke="#000" stroke-width="0.18" >7 Mar 00:00</text>
<text transform="translate(1076.5,936.8) scale(0.925,1)" font-size="10" fill="#000" stroke="#000" stroke-width="0.18" >8 Mar 09:00</text>
<text transform="translate(1140.5,936.8) scale(0.925,1)" font-size="10" fill="#000" stroke="#000" stroke-width="0.18" >9 Mar 18:55</text>
<text transform="translate(1204.5,936.8) scale(0.925,1)" font-size="10" fill="#000" stroke="#000" stroke-width="0.18" >11 Mar 00:00</text>
<text transform="translate(1268.5,936.8) scale(0.925,1)" font-size="10" fill="#000" stroke="#000" stroke-width="0.18" >14 Mar 10:55</text>
<text transform="translate(1332.5,936.8) scale(0.925,1)" font-size="10" fill="#000" stroke="#000" stroke-width="0.18" >15 Mar 18:55</text>
<polygon points="1393,24 1403,24 1398,29" fill="#c0c0c0"/>
</svg>
<svg id="tb" width="1695" height="23" viewBox="0 0 1695 23" style="position:absolute;left:0;top:0" font-family="Liberation Sans, Noto Sans CJK SC, sans-serif">
<defs><linearGradient id="gG" x1="0" y1="0" x2="0" y2="1"><stop offset="0" stop-color="#7cf27c"/><stop offset="1" stop-color="#0aa50a"/></linearGradient><linearGradient id="gY" x1="0" y1="0" x2="1" y2="1"><stop offset="0" stop-color="#fbe27a"/><stop offset="1" stop-color="#b87a10"/></linearGradient><linearGradient id="gB" x1="0" y1="0" x2="0" y2="1"><stop offset="0" stop-color="#7db7f5"/><stop offset="1" stop-color="#1f5fc4"/></linearGradient><radialGradient id="gR" cx="0.4" cy="0.3" r="0.8"><stop offset="0" stop-color="#f0573a"/><stop offset="1" stop-color="#d41d10"/></radialGradient><pattern id="hat" width="2" height="2" patternUnits="userSpaceOnUse"><rect width="2" height="2" fill="#f7f7f7"/><rect width="1" height="1" fill="#ececec"/><rect x="1" y="1" width="1" height="1" fill="#ececec"/></pattern></defs>
<rect x="0" y="0" width="1695" height="19" fill="#f0f0f0"/>
<rect x="0" y="19" width="1695" height="1" fill="#c4c4c4"/>
<rect x="0" y="20" width="1695" height="1" fill="#666"/>
<rect x="0" y="21" width="1695" height="2" fill="#fff"/>
<rect x="285" y="0" width="23" height="17" fill="url(#hat)"/>
<rect x="436" y="0" width="25" height="17" fill="url(#hat)"/>
<rect x="464" y="0" width="27" height="17" fill="url(#hat)"/>
<rect x="624" y="0" width="24" height="17" fill="url(#hat)"/>
<rect x="1070" y="0" width="24" height="17" fill="url(#hat)"/>
<rect x="9" y="0" width="1" height="17" fill="#a0a0a0" shape-rendering="crispEdges"/>
<rect x="283" y="0" width="1" height="17" fill="#a0a0a0" shape-rendering="crispEdges"/>
<rect x="340" y="0" width="1" height="17" fill="#a0a0a0" shape-rendering="crispEdges"/>
<rect x="430" y="0" width="1" height="17" fill="#a0a0a0" shape-rendering="crispEdges"/>
<rect x="435" y="0" width="1" height="17" fill="#a0a0a0" shape-rendering="crispEdges"/>
<rect x="463" y="0" width="1" height="17" fill="#a0a0a0" shape-rendering="crispEdges"/>
<rect x="492" y="0" width="1" height="17" fill="#a0a0a0" shape-rendering="crispEdges"/>
<rect x="623" y="0" width="1" height="17" fill="#a0a0a0" shape-rendering="crispEdges"/>
<rect x="680" y="0" width="1" height="17" fill="#a0a0a0" shape-rendering="crispEdges"/>
<rect x="1069" y="0" width="1" height="17" fill="#a0a0a0" shape-rendering="crispEdges"/>
<rect x="245" y="0" width="1" height="19" fill="#8c8c8c" shape-rendering="crispEdges"/>
<rect x="613" y="0" width="1" height="19" fill="#8c8c8c" shape-rendering="crispEdges"/>
<rect x="919" y="0" width="1" height="19" fill="#8c8c8c" shape-rendering="crispEdges"/>
<rect x="1180" y="0" width="1" height="19" fill="#8c8c8c" shape-rendering="crispEdges"/>
<rect x="249" y="1" width="3" height="1" fill="#b4b4b4" shape-rendering="crispEdges"/>
<rect x="249" y="3" width="3" height="1" fill="#b4b4b4" shape-rendering="crispEdges"/>
<rect x="249" y="5" width="3" height="1" fill="#b4b4b4" shape-rendering="crispEdges"/>
<rect x="249" y="7" width="3" height="1" fill="#b4b4b4" shape-rendering="crispEdges"/>
<rect x="249" y="9" width="3" height="1" fill="#b4b4b4" shape-rendering="crispEdges"/>
<rect x="249" y="11" width="3" height="1" fill="#b4b4b4" shape-rendering="crispEdges"/>
<rect x="249" y="13" width="3" height="1" fill="#b4b4b4" shape-rendering="crispEdges"/>
<rect x="249" y="15" width="3" height="1" fill="#b4b4b4" shape-rendering="crispEdges"/>
<rect x="617" y="1" width="3" height="1" fill="#b4b4b4" shape-rendering="crispEdges"/>
<rect x="617" y="3" width="3" height="1" fill="#b4b4b4" shape-rendering="crispEdges"/>
<rect x="617" y="5" width="3" height="1" fill="#b4b4b4" shape-rendering="crispEdges"/>
<rect x="617" y="7" width="3" height="1" fill="#b4b4b4" shape-rendering="crispEdges"/>
<rect x="617" y="9" width="3" height="1" fill="#b4b4b4" shape-rendering="crispEdges"/>
<rect x="617" y="11" width="3" height="1" fill="#b4b4b4" shape-rendering="crispEdges"/>
<rect x="617" y="13" width="3" height="1" fill="#b4b4b4" shape-rendering="crispEdges"/>
<rect x="617" y="15" width="3" height="1" fill="#b4b4b4" shape-rendering="crispEdges"/>
<rect x="923" y="1" width="3" height="1" fill="#b4b4b4" shape-rendering="crispEdges"/>
<rect x="923" y="3" width="3" height="1" fill="#b4b4b4" shape-rendering="crispEdges"/>
<rect x="923" y="5" width="3" height="1" fill="#b4b4b4" shape-rendering="crispEdges"/>
<rect x="923" y="7" width="3" height="1" fill="#b4b4b4" shape-rendering="crispEdges"/>
<rect x="923" y="9" width="3" height="1" fill="#b4b4b4" shape-rendering="crispEdges"/>
<rect x="923" y="11" width="3" height="1" fill="#b4b4b4" shape-rendering="crispEdges"/>
<rect x="923" y="13" width="3" height="1" fill="#b4b4b4" shape-rendering="crispEdges"/>
<rect x="923" y="15" width="3" height="1" fill="#b4b4b4" shape-rendering="crispEdges"/>
<path d="M0 12 l1.5 1.5 l-1.5 2z" fill="#d89018"/>
<path d="M19.5 -3.5 h7 l4 4 v11 h-11z" fill="#fff" stroke="#8a8a8a"/><path d="M21 2.5h3M21 5.5h6M21 7.5h6" stroke="#9a9a9a"/>
<path d="M27.0 5.5 h4 v3.5 h3.5 v4 h-3.5 v3.5 h-4 v-3.5 h-3.5 v-4 h3.5z" fill="url(#gG)" stroke="#0a8c0a" stroke-width="0.8"/>
<text x="37.6" y="9.8" font-size="12" fill="#000">新订单</text>
<path d="M92 -2 L102 5.5 L95 14.5 L86.5 8.5 Z" fill="url(#gY)" stroke="#a06a08" stroke-width="0.8"/><path d="M95 14.5 l7 -9 l0.8 1.6 l-6.6 8.6z" fill="#8a5a06"/>
<rect x="117" y="-3" width="10" height="11" fill="url(#gB)" stroke="#2a62b8" stroke-width="0.8"/><path d="M119 2.5h6M119 5.5h6" stroke="#fff"/>
<path d="M117 13.5 a3 3 0 0 1 0.5 -6 a4.5 4.5 0 0 1 8 -0.5 a3.2 3.2 0 0 1 2 6.5z" fill="#e6eefc" stroke="#6f90c8" stroke-width="0.9"/>
<g fill="none" stroke-linecap="round"><path d="M145 12 a7.2 7.2 0 1 1 10.5 0" stroke="#9cb4e0" stroke-width="1.3"/><path d="M147.3 9.8 a4.2 4.2 0 1 1 6 0" stroke="#4a78d0" stroke-width="1.3"/></g><circle cx="150.3" cy="6.3" r="1.6" fill="#3060c0"/><path d="M150.3 7 v7.5" stroke="#3a9a3a" stroke-width="1.6"/><path d="M151 14 a7 7 0 0 0 6.5 -5.5" stroke="#5ab45a" stroke-width="1.6" fill="none"/>
<ellipse cx="177" cy="3" rx="8" ry="3" fill="#5aa0e8" stroke="#3a78c8" stroke-width="0.6"/><path d="M174 -3 h6 l1.5 6 h-9z" fill="#6fb0f0"/><path d="M170.5 5 q6.5 4 13 0 l-2 6.5 q-4.5 4 -9 0z" fill="url(#gY)" stroke="#b8860b" stroke-width="0.6"/>
<circle cx="181.5" cy="11" r="4.4" fill="#e03020" stroke="#fff" stroke-width="0.8"/><rect x="179.6" y="9.1" width="3.8" height="3.8" fill="#fff"/>
<text x="190.4" y="9.8" font-size="12" fill="#000">自动交易</text>
<g stroke="#404040" stroke-width="1.4" fill="none"><path d="M263.5 1 V14.5"/><path d="M261 12.5 H274"/></g><path d="M263.5 -0.5 l-1.8 2.5 h3.6z M275.5 12.5 l-2.6 -1.8 v3.6z" fill="#404040"/>
<path d="M270.5 2.5 v8 M270.5 2.5 h-2 M270.5 10 h-2.5 M270.5 3 h2" stroke="#1a9a1a" stroke-width="1.4" fill="none"/>
<g stroke="#404040" stroke-width="1.4" fill="none"><path d="M291.5 1 V14.5"/><path d="M289 12.5 H302"/></g><path d="M291.5 -0.5 l-1.8 2.5 h3.6z M303.5 12.5 l-2.6 -1.8 v3.6z" fill="#404040"/>
<path d="M297.5 0v11" stroke="#0a7a0a" stroke-width="1"/><rect x="295.5" y="1.5" width="4" height="7" fill="#2ad22a" stroke="#0a8a0a" stroke-width="0.8"/>
<g stroke="#404040" stroke-width="1.4" fill="none"><path d="M319.5 1 V14.5"/><path d="M317 12.5 H330"/></g><path d="M319.5 -0.5 l-1.8 2.5 h3.6z M331.5 12.5 l-2.6 -1.8 v3.6z" fill="#404040"/>
<path d="M318.5 10 q4 -8 7 -6 t5 4.5" stroke="#2a9a2a" stroke-width="1.3" fill="none"/>
<path d="M357.5 8.5 l6 5.8" stroke="#d8a020" stroke-width="3" stroke-linecap="round"/><path d="M357.5 8.5 l6 5.8" stroke="#f0d060" stroke-width="1.2" stroke-linecap="round"/>
<circle cx="354.5" cy="4.8" r="4.9" fill="#cfe6fa" stroke="#3a7ad0" stroke-width="1.3"/>
<path d="M351.7 4.8 h5.6" stroke="#2a60c0" stroke-width="1.7"/>
<path d="M354.5 2 v5.6" stroke="#2a60c0" stroke-width="1.7"/>
<path d="M385.5 8.5 l6 5.8" stroke="#d8a020" stroke-width="3" stroke-linecap="round"/><path d="M385.5 8.5 l6 5.8" stroke="#f0d060" stroke-width="1.2" stroke-linecap="round"/>
<circle cx="382.5" cy="4.8" r="4.9" fill="#cfe6fa" stroke="#3a7ad0" stroke-width="1.3"/>
<path d="M379.7 4.8 h5.6" stroke="#2a60c0" stroke-width="1.7"/>
<rect x="405" y="-3" width="7.6" height="8" fill="#4aa82a"/><path d="M406.5 0.5 h4.6 M406.5 2.8 h4.6" stroke="#fff" stroke-width="1"/>
<rect x="413.5" y="-3" width="7.6" height="8" fill="#2a58c8"/><path d="M415.0 0.5 h4.6 M415.0 2.8 h4.6" stroke="#fff" stroke-width="1"/>
<rect x="405" y="7" width="7.6" height="8" fill="#2a58c8"/><path d="M406.5 10.5 h4.6 M406.5 12.8 h4.6" stroke="#fff" stroke-width="1"/>
<rect x="413.5" y="7" width="7.6" height="8" fill="#4aa82a"/><path d="M415.0 10.5 h4.6 M415.0 12.8 h4.6" stroke="#fff" stroke-width="1"/>
<g stroke="#404040" stroke-width="1.4" fill="none"><path d="M443.5 1 V14.5"/><path d="M441 12.5 H454"/></g><path d="M443.5 -0.5 l-1.8 2.5 h3.6z M455.5 12.5 l-2.6 -1.8 v3.6z" fill="#404040"/>
<path d="M448 3 l4.5 3.2 l-4.5 3.2z" fill="#3ab43a" stroke="#1a8a1a" stroke-width="0.7"/>
<g stroke="#404040" stroke-width="1.4" fill="none"><path d="M471.5 1 V14.5"/><path d="M469 12.5 H482"/></g><path d="M471.5 -0.5 l-1.8 2.5 h3.6z M483.5 12.5 l-2.6 -1.8 v3.6z" fill="#404040"/>
<path d="M477.5 1 v10" stroke="#2a70c0" stroke-width="1.3"/><path d="M483 6 h-4 M481 4 l-2.2 2 l2.2 2" stroke="#c03010" stroke-width="1.2" fill="none"/>
<path d="M502.5 -3.5 h7 l4 4 v11 h-11z" fill="#fff" stroke="#8a8a8a"/><path d="M504 2.5h3M504 5.5h6M504 7.5h6" stroke="#9a9a9a"/>
<path d="M510.25 5.4 h4 v3.75 h3.75 v4 h-3.75 v3.75 h-4 v-3.75 h-3.75 v-4 h3.75z" fill="url(#gG)" stroke="#0a8c0a" stroke-width="0.8"/>
<path d="M523.9 6 h5.2 l-2.6 3z" fill="#000"/>
<path d="M562.4 6 h5.2 l-2.6 3z" fill="#000"/>
<path d="M601.4 6 h5.2 l-2.6 3z" fill="#000"/>
<path d="M907.4 6 h5.2 l-2.6 3z" fill="#000"/>
<circle cx="548" cy="6.3" r="7.4" fill="#2a6ad0" stroke="#1a4aa0" stroke-width="0.8"/><circle cx="548" cy="6.3" r="5.2" fill="#eef4fc"/><path d="M548 2.5 v3.8 h2.6" stroke="#444" stroke-width="1" fill="none"/>
<rect x="579.5" y="-2.5" width="15" height="15" fill="#fff" stroke="#3a78d0" stroke-width="1"/><rect x="579" y="-3" width="16" height="3.5" fill="#3a78d0"/><path d="M579.5 6.5 h15" stroke="#3a78d0" stroke-width="0.8"/><path d="M581.5 5 l3 -1.5 l3 0.8 l3 -2 l2.5 0.5" stroke="#a02a10" stroke-width="1.1" fill="none"/><path d="M581.5 11 l3 -1.6 l3 1.2 l3 -2.2 l2.5 1.6" stroke="#2a9a2a" stroke-width="1.1" fill="none"/>
<path d="M631 -2 V12 l3.2 -3.2 l2.4 5.2 l2 -0.9 l-2.4 -5.1 h4.3z" fill="#444"/>
<path d="M663.5 0 V14.5 M656 7.5 H671" stroke="#505050" stroke-width="1.1"/>
<path d="M697.5 1 V14" stroke="#505050" stroke-width="1.2"/>
<path d="M720 7.5 H732" stroke="#505050" stroke-width="1.2"/>
<path d="M747.5 14 L760 2" stroke="#505050" stroke-width="1.2"/>
<g stroke="#505050" stroke-width="1" fill="none"><path d="M774.5 9 L786 0"/><path d="M775.5 13 L787 4"/><path d="M777 7 l1 5 M780 5 l1 5 M783 2.5 l1 5 M786 0 l1 5" stroke-width="0.8"/></g><text x="784.5" y="15.6" font-size="6.5" font-weight="bold" fill="#404040">E</text>
<path d="M803 1.5 H816" stroke="#505050" stroke-width="1" stroke-dasharray="1 1"/>
<path d="M803 4.5 H816" stroke="#505050" stroke-width="1" stroke-dasharray="1 1"/>
<path d="M803 7.5 H816" stroke="#505050" stroke-width="1" stroke-dasharray="1 1"/>
<path d="M803 11.5 H811" stroke="#505050" stroke-width="1" stroke-dasharray="1 1"/>
<text x="812.5" y="15.8" font-size="6.5" font-weight="bold" fill="#404040">F</text>
<text x="833.2" y="12" font-size="12.5" font-weight="bold" fill="#686868" textLength="9" lengthAdjust="spacingAndGlyphs">A</text>
<rect x="860.5" y="0.5" width="11" height="13" fill="none" stroke="#505050" stroke-width="1" stroke-dasharray="1 1"/><text x="861.8" y="12" font-size="12" font-weight="bold" fill="#606060">T</text>
<path d="M890 0.5 l3 3 l-3 3 l-3 -3z M897 7.5 l3.2 3 l-3.2 3 l-3.2 -3z" fill="#404040"/><path d="M888.5 7.5 l2.5 2.5 l3.5 -5" stroke="#404040" stroke-width="1.3" fill="none"/>
<text x="941" y="11" font-size="9.6" fill="#505050" text-anchor="middle">M1</text>
<text x="969" y="11" font-size="9.6" fill="#505050" text-anchor="middle">M5</text>
<text x="997" y="11" font-size="9.6" fill="#505050" text-anchor="middle">M15</text>
<text x="1025.5" y="11" font-size="9.6" fill="#505050" text-anchor="middle">M30</text>
<text x="1053.7" y="11" font-size="9.6" fill="#505050" text-anchor="middle">H1</text>
<text x="1081" y="11" font-size="9.6" fill="#505050" text-anchor="middle">H4</text>
<text x="1109" y="11" font-size="9.6" fill="#505050" text-anchor="middle">D1</text>
<text x="1138" y="11" font-size="9.6" fill="#505050" text-anchor="middle">W1</text>
<text x="1164.6" y="11" font-size="9.6" fill="#505050" text-anchor="middle">MN</text>
<path d="M1647.6 7.6 L1643 12" stroke="#2a58d0" stroke-width="2.4" stroke-linecap="round"/><circle cx="1650.7" cy="4.3" r="3.6" fill="#f8f8ff" stroke="#2a58d0" stroke-width="1.3"/>
<path d="M1669.5 13 l1 3 l3 -2.6z" fill="#b0b0b8"/><ellipse cx="1672.4" cy="9.3" rx="5.8" ry="4.2" fill="#dcdce4" stroke="#b8b8c0" stroke-width="0.7"/>
<circle cx="1681.4" cy="4.4" r="8" fill="url(#gR)"/><text x="1681.3" y="8.6" font-size="13" font-weight="bold" font-family="Liberation Serif, serif" fill="#fff" text-anchor="middle">1</text>
</svg>
<div id="edge"></div>

<div id="oct">
 <div style="left:0;top:0;width:213px;height:58px;background:#fff"></div>
 <div class="btn" style="left:0;top:0;width:43px;height:24.5px;"></div>
 <div style="left:0;top:23px;width:40px;height:1px;background:#9a0c0c"></div>
 <div style="left:0;top:24px;width:40px;height:1px;background:#f08a8a"></div>
 <div style="left:4px;top:5px;width:30px;height:14px;color:#fff;font-size:12px;line-height:14px;transform-origin:0 50%;transform:scaleX(0.87)">SELL</div>
 <div class="btn" style="left:159px;top:0;width:52px;height:24.5px;"></div>
 <div style="left:163px;top:23px;width:44px;height:1px;background:#9a0c0c"></div>
 <div style="left:163px;top:24px;width:44px;height:1px;background:#f08a8a"></div>
 <div style="left:172.5px;top:5px;width:30px;height:14px;color:#fff;font-size:12px;line-height:14px;transform-origin:0 50%;transform:scaleX(0.9)">BUY</div>
 <div class="px" style="left:0;top:24.3px;width:101px;height:32.7px;"></div>
 <div class="px" style="left:103px;top:24.3px;width:108px;height:32.7px;"></div>
 <div style="left:43px;top:0;width:116px;height:24.3px;background:#fff"></div>
 <div style="left:46px;top:0;width:111px;height:22px;border:1px solid #a8aab4;background:#fff"></div>
 <div class="sp" style="left:47px;top:1px;width:20px;height:20px;border:1px solid #f4f4f4;"></div>
 <div style="left:67px;top:1px;width:1px;height:20px;background:#a8aab4"></div>
 <div class="sp" style="left:136px;top:1px;width:20px;height:20px;border:1px solid #f4f4f4;"></div>
 <div style="left:135px;top:1px;width:1px;height:20px;background:#a8aab4"></div>
 <div style="left:53.7px;top:9px;width:0;height:0;border-left:3px solid transparent;border-right:3px solid transparent;border-top:3.2px solid #4a62c4"></div>
 <div style="left:142.5px;top:8.6px;width:0;height:0;border-left:3px solid transparent;border-right:3px solid transparent;border-bottom:3.2px solid #4a62c4"></div>
 <div style="left:68px;top:3px;width:64px;height:16px;color:#000;font-size:12px;line-height:16px;text-align:right">1.00</div>
 <span class="sm" style="left:8px;top:41.5px">26136</span><span class="dot" style="left:45.6px;top:28.6px">.</span><span class="big" style="left:52.8px;top:22.6px">0</span>
 <span class="sm" style="left:118.5px;top:41.5px">26159</span><span class="dot" style="left:156.2px;top:28.6px">.</span><span class="big" style="left:164.2px;top:22.6px">0</span>
</div>

</body></html>
